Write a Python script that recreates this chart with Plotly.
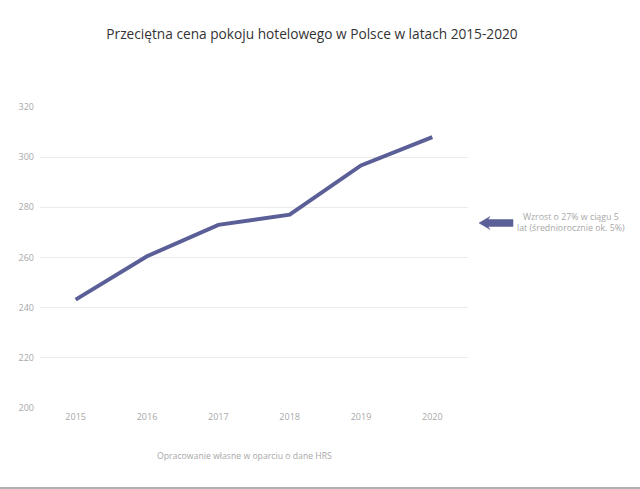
import plotly.graph_objects as go

# Dane: średnia cena pokoju hotelowego (PLN)
lata = ["2015", "2016", "2017", "2018", "2019", "2020"]
cena = [243.2, 260.5, 273.0, 277.1, 296.7, 308.0]
y_ticks = [200, 220, 240, 260, 280, 300, 320]

line_color = "#5b5f97"
text_gray = "#a8a8a8"
font_name = "Open Sans"

# obszar wykresu w pikselach (l, r, t, b)
L, R, T, B = 40, 468, 107, 408
W, H = R - L, B - T


def px(x):
    return (x - L) / W


def py(y):
    return (B - y) / H


fig = go.Figure()

fig.add_trace(go.Scatter(
    x=lata,
    y=cena,
    mode="lines",
    line=dict(color=line_color, width=4),
    hoverinfo="x+y",
))

fig.update_layout(
    width=640,
    height=489,
    margin=dict(l=L, r=640 - R, t=T, b=489 - B),
    paper_bgcolor="white",
    plot_bgcolor="white",
    showlegend=False,
    font=dict(family=font_name, color=text_gray, size=9),
    title=dict(
        text="Przeciętna cena pokoju hotelowego w Polsce w latach 2015-2020",
        font=dict(family=font_name, size=13.7, color="#333333"),
        x=312 / 640, xanchor="center", xref="container",
        y=1 - 34 / 489, yanchor="middle", yref="container",
    ),
    xaxis=dict(
        type="category",
        range=[-0.5, 5.5],
        showgrid=False,
        showline=False,
        zeroline=False,
        ticks="",
        ticklabelstandoff=2,
        tickfont=dict(size=9, color=text_gray),
    ),
    yaxis=dict(
        range=[200, 320],
        tickvals=y_ticks,
        showgrid=True,
        gridcolor="#ebebeb",
        gridwidth=1,
        zeroline=False,
        showline=False,
        ticks="",
        ticklabelstandoff=5,
        tickfont=dict(size=9, color=text_gray),
    ),
)

# strzałka wskazująca komentarz
fig.add_shape(
    type="path",
    xref="paper", yref="paper",
    xsizemode="pixel", ysizemode="pixel",
    xanchor=px(479), yanchor=py(223),
    path="M 0 0 L 11 6.5 L 9 3.5 L 34 3.5 L 34 -3.5 L 9 -3.5 L 11 -6.5 Z",
    fillcolor=line_color,
    line=dict(color=line_color, width=0.5),
)

# komentarz
fig.add_annotation(
    xref="paper", yref="paper",
    x=px(571), y=py(222),
    text="Wzrost o 27% w ciągu 5<br>lat (średniorocznie ok. 5%)",
    showarrow=False,
    xanchor="center", yanchor="middle",
    align="center",
    font=dict(family=font_name, size=8.8, color=text_gray),
)

# źródło
fig.add_annotation(
    xref="paper", yref="paper",
    x=px(244), y=py(456),
    text="Opracowanie własne w oparciu o dane HRS",
    showarrow=False,
    xanchor="center", yanchor="middle",
    font=dict(family=font_name, size=8.7, color=text_gray),
)

# szara linia na dole
fig.add_shape(
    type="line", xref="paper", yref="paper",
    x0=px(0), x1=px(640),
    y0=py(488), y1=py(488),
    line=dict(color="#b0b0b0", width=2),
)

# bez marginesu strony, żeby wykres zaczynał się w rogu okna
fig.write_html(
    "out.html",
    config={"displayModeBar": False},
    post_script="document.body.style.margin='0';",
)
